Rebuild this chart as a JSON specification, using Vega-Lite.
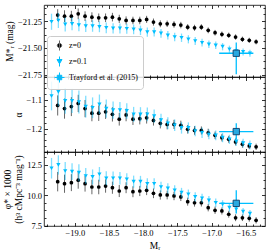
{
  "$schema": "https://vega.github.io/schema/vega-lite/v6.json",
  "autosize": {"type": "pad"},
  "padding": {"left": 1, "top": 4, "right": 5, "bottom": 2},
  "spacing": 0,
  "bounds": "flush",
  "config": {
    "font": "Liberation Serif",
    "view": {"stroke": "black", "strokeWidth": 0.8},
    "axis": {"domain": false, "grid": false, "tickColor": "black", "tickWidth": 0.8, "tickSize": -3.5, "labelFont": "Liberation Serif", "labelFontSize": 8.5, "labelColor": "black", "labelPadding": 6, "titleFont": "Liberation Serif", "titleFontWeight": "normal", "titleFontSize": 9.5, "titleColor": "black", "titlePadding": 3},
    "legend": {"labelFont": "Liberation Serif", "labelFontSize": 8, "labelColor": "black"}
  },
  "datasets": {
    "pts": [
      {"s": "z=0", "M": -19.25, "mr": -21.194, "mre": 0.055, "a": -1.119, "ae": 0.035, "phi": 11.12, "phie": 0.8},
      {"s": "z=0", "M": -19.15, "mr": -21.204, "mre": 0.055, "a": -1.130, "ae": 0.035, "phi": 10.95, "phie": 0.75},
      {"s": "z=0", "M": -19.05, "mr": -21.204, "mre": 0.05, "a": -1.123, "ae": 0.033, "phi": 11.04, "phie": 0.7},
      {"s": "z=0", "M": -18.95, "mr": -21.182, "mre": 0.05, "a": -1.112, "ae": 0.03, "phi": 11.24, "phie": 0.7},
      {"s": "z=0", "M": -18.85, "mr": -21.204, "mre": 0.045, "a": -1.130, "ae": 0.03, "phi": 10.95, "phie": 0.65},
      {"s": "z=0", "M": -18.75, "mr": -21.213, "mre": 0.045, "a": -1.146, "ae": 0.028, "phi": 10.68, "phie": 0.6},
      {"s": "z=0", "M": -18.65, "mr": -21.219, "mre": 0.04, "a": -1.146, "ae": 0.027, "phi": 10.68, "phie": 0.6},
      {"s": "z=0", "M": -18.55, "mr": -21.219, "mre": 0.04, "a": -1.141, "ae": 0.025, "phi": 10.76, "phie": 0.55},
      {"s": "z=0", "M": -18.45, "mr": -21.213, "mre": 0.04, "a": -1.150, "ae": 0.025, "phi": 10.62, "phie": 0.5},
      {"s": "z=0", "M": -18.35, "mr": -21.229, "mre": 0.038, "a": -1.167, "ae": 0.022, "phi": 10.35, "phie": 0.5},
      {"s": "z=0", "M": -18.25, "mr": -21.244, "mre": 0.038, "a": -1.152, "ae": 0.022, "phi": 10.62, "phie": 0.45},
      {"s": "z=0", "M": -18.15, "mr": -21.244, "mre": 0.035, "a": -1.167, "ae": 0.02, "phi": 10.29, "phie": 0.45},
      {"s": "z=0", "M": -18.05, "mr": -21.244, "mre": 0.035, "a": -1.165, "ae": 0.02, "phi": 10.35, "phie": 0.42},
      {"s": "z=0", "M": -17.95, "mr": -21.234, "mre": 0.033, "a": -1.162, "ae": 0.02, "phi": 10.41, "phie": 0.4},
      {"s": "z=0", "M": -17.85, "mr": -21.259, "mre": 0.033, "a": -1.171, "ae": 0.018, "phi": 10.16, "phie": 0.4},
      {"s": "z=0", "M": -17.75, "mr": -21.275, "mre": 0.032, "a": -1.181, "ae": 0.018, "phi": 10.02, "phie": 0.38},
      {"s": "z=0", "M": -17.65, "mr": -21.275, "mre": 0.03, "a": -1.185, "ae": 0.017, "phi": 10.02, "phie": 0.36},
      {"s": "z=0", "M": -17.55, "mr": -21.281, "mre": 0.03, "a": -1.185, "ae": 0.016, "phi": 9.94, "phie": 0.35},
      {"s": "z=0", "M": -17.45, "mr": -21.287, "mre": 0.03, "a": -1.188, "ae": 0.016, "phi": 9.86, "phie": 0.34},
      {"s": "z=0", "M": -17.35, "mr": -21.306, "mre": 0.028, "a": -1.202, "ae": 0.015, "phi": 9.47, "phie": 0.33},
      {"s": "z=0", "M": -17.25, "mr": -21.312, "mre": 0.028, "a": -1.206, "ae": 0.015, "phi": 9.38, "phie": 0.32},
      {"s": "z=0", "M": -17.15, "mr": -21.306, "mre": 0.027, "a": -1.206, "ae": 0.014, "phi": 9.38, "phie": 0.31},
      {"s": "z=0", "M": -17.05, "mr": -21.336, "mre": 0.027, "a": -1.214, "ae": 0.014, "phi": 8.97, "phie": 0.3},
      {"s": "z=0", "M": -16.95, "mr": -21.358, "mre": 0.026, "a": -1.223, "ae": 0.013, "phi": 8.76, "phie": 0.3},
      {"s": "z=0", "M": -16.85, "mr": -21.373, "mre": 0.026, "a": -1.231, "ae": 0.013, "phi": 8.70, "phie": 0.29},
      {"s": "z=0", "M": -16.75, "mr": -21.382, "mre": 0.025, "a": -1.237, "ae": 0.012, "phi": 8.43, "phie": 0.28},
      {"s": "z=0", "M": -16.65, "mr": -21.398, "mre": 0.025, "a": -1.246, "ae": 0.012, "phi": 8.14, "phie": 0.28},
      {"s": "z=0", "M": -16.55, "mr": -21.419, "mre": 0.025, "a": -1.254, "ae": 0.012, "phi": 8.14, "phie": 0.27},
      {"s": "z=0", "M": -16.45, "mr": -21.429, "mre": 0.024, "a": -1.260, "ae": 0.011, "phi": 8.09, "phie": 0.27},
      {"s": "z=0", "M": -16.35, "mr": -21.442, "mre": 0.024, "a": -1.263, "ae": 0.011, "phi": 7.93, "phie": 0.26},
      {"s": "z=0.1", "M": -19.34, "mr": -21.256, "mre": 0.075, "a": -1.086, "ae": 0.05, "phi": 12.23, "phie": 0.85},
      {"s": "z=0.1", "M": -19.24, "mr": -21.244, "mre": 0.07, "a": -1.072, "ae": 0.05, "phi": 12.50, "phie": 0.8},
      {"s": "z=0.1", "M": -19.14, "mr": -21.281, "mre": 0.065, "a": -1.103, "ae": 0.045, "phi": 12.00, "phie": 0.75},
      {"s": "z=0.1", "M": -19.04, "mr": -21.275, "mre": 0.06, "a": -1.103, "ae": 0.042, "phi": 11.95, "phie": 0.7},
      {"s": "z=0.1", "M": -18.94, "mr": -21.287, "mre": 0.058, "a": -1.107, "ae": 0.04, "phi": 11.86, "phie": 0.7},
      {"s": "z=0.1", "M": -18.84, "mr": -21.296, "mre": 0.055, "a": -1.123, "ae": 0.038, "phi": 11.59, "phie": 0.65},
      {"s": "z=0.1", "M": -18.74, "mr": -21.296, "mre": 0.053, "a": -1.127, "ae": 0.036, "phi": 11.51, "phie": 0.62},
      {"s": "z=0.1", "M": -18.64, "mr": -21.303, "mre": 0.05, "a": -1.115, "ae": 0.034, "phi": 11.73, "phie": 0.6},
      {"s": "z=0.1", "M": -18.54, "mr": -21.312, "mre": 0.05, "a": -1.130, "ae": 0.032, "phi": 11.40, "phie": 0.58},
      {"s": "z=0.1", "M": -18.44, "mr": -21.318, "mre": 0.048, "a": -1.135, "ae": 0.03, "phi": 11.40, "phie": 0.55},
      {"s": "z=0.1", "M": -18.34, "mr": -21.318, "mre": 0.047, "a": -1.135, "ae": 0.028, "phi": 11.40, "phie": 0.52},
      {"s": "z=0.1", "M": -18.24, "mr": -21.321, "mre": 0.046, "a": -1.138, "ae": 0.027, "phi": 11.32, "phie": 0.5},
      {"s": "z=0.1", "M": -18.14, "mr": -21.327, "mre": 0.045, "a": -1.150, "ae": 0.026, "phi": 11.12, "phie": 0.5},
      {"s": "z=0.1", "M": -18.04, "mr": -21.336, "mre": 0.044, "a": -1.150, "ae": 0.025, "phi": 11.12, "phie": 0.48},
      {"s": "z=0.1", "M": -17.94, "mr": -21.352, "mre": 0.043, "a": -1.150, "ae": 0.024, "phi": 10.95, "phie": 0.46},
      {"s": "z=0.1", "M": -17.84, "mr": -21.352, "mre": 0.042, "a": -1.156, "ae": 0.023, "phi": 10.95, "phie": 0.45},
      {"s": "z=0.1", "M": -17.74, "mr": -21.364, "mre": 0.041, "a": -1.170, "ae": 0.022, "phi": 10.68, "phie": 0.44},
      {"s": "z=0.1", "M": -17.64, "mr": -21.382, "mre": 0.04, "a": -1.181, "ae": 0.021, "phi": 10.57, "phie": 0.42},
      {"s": "z=0.1", "M": -17.54, "mr": -21.398, "mre": 0.04, "a": -1.188, "ae": 0.02, "phi": 10.41, "phie": 0.41},
      {"s": "z=0.1", "M": -17.44, "mr": -21.405, "mre": 0.039, "a": -1.197, "ae": 0.02, "phi": 10.21, "phie": 0.4},
      {"s": "z=0.1", "M": -17.34, "mr": -21.419, "mre": 0.038, "a": -1.197, "ae": 0.019, "phi": 10.08, "phie": 0.39},
      {"s": "z=0.1", "M": -17.24, "mr": -21.435, "mre": 0.037, "a": -1.208, "ae": 0.018, "phi": 9.86, "phie": 0.38},
      {"s": "z=0.1", "M": -17.14, "mr": -21.451, "mre": 0.036, "a": -1.214, "ae": 0.018, "phi": 9.75, "phie": 0.37},
      {"s": "z=0.1", "M": -17.04, "mr": -21.466, "mre": 0.035, "a": -1.220, "ae": 0.017, "phi": 9.58, "phie": 0.36},
      {"s": "z=0.1", "M": -16.94, "mr": -21.475, "mre": 0.035, "a": -1.223, "ae": 0.017, "phi": 9.38, "phie": 0.35},
      {"s": "z=0.1", "M": -16.84, "mr": -21.488, "mre": 0.034, "a": -1.231, "ae": 0.016, "phi": 9.25, "phie": 0.34},
      {"s": "z=0.1", "M": -16.74, "mr": -21.512, "mre": 0.034, "a": -1.237, "ae": 0.016, "phi": 8.97, "phie": 0.33},
      {"s": "z=0.1", "M": -16.64, "mr": -21.528, "mre": 0.033, "a": -1.244, "ae": 0.015, "phi": 8.84, "phie": 0.32},
      {"s": "z=0.1", "M": -16.54, "mr": -21.537, "mre": 0.033, "a": -1.250, "ae": 0.015, "phi": 8.64, "phie": 0.31},
      {"s": "z=0.1", "M": -16.44, "mr": -21.549, "mre": 0.032, "a": -1.256, "ae": 0.015, "phi": 8.48, "phie": 0.3}
    ],
    "tray": [
      {"s": "Trayford et al. (2015)", "M": -16.64, "Mlo": -16.89, "Mhi": -16.39, "mr": -21.549, "mrlo": -21.744, "mrhi": -21.45, "a": -1.21, "alo": -1.236, "ahi": -1.181, "phi": 9.33, "philo": 8.5, "phihi": 10.41}
    ]
  },
  "vconcat": [
    {
      "width": 221, "height": 72,
      "resolve": {"axis": {"x": "independent", "y": "independent"}},
      "layer": [
        {"data": {"name": "pts"}, "transform": [{"filter": "datum.s === 'z=0'"}],
         "mark": {"type": "errorbar", "color": "#555555", "thickness": 0.9},
         "encoding": {
           "x": {"field": "M", "type": "quantitative", "scale": {"domain": [-19.45, -16.22], "nice": false, "zero": false}, "axis": {"orient": "bottom", "values": [-19, -18.5, -18, -17.5, -17, -16.5], "labels": false, "title": null}},
           "y": {"field": "mr", "type": "quantitative", "scale": {"domain": [-21.77, -21.1], "nice": false, "zero": false}, "axis": {"orient": "left", "values": [-21.75, -21.5, -21.25], "format": ".2f", "title": "M*ᵣ (mag)"}},
           "yError": {"field": "mre"}}},
        {"data": {"name": "pts"}, "transform": [{"filter": "datum.s === 'z=0'"}],
         "mark": {"type": "point", "shape": "circle", "filled": true, "opacity": 1, "size": 14, "color": "#000000"},
         "encoding": {
           "x": {"field": "M", "type": "quantitative", "axis": {"orient": "bottom", "values": [-19.4,-19.3,-19.2,-19.1,-18.9,-18.8,-18.7,-18.6,-18.4,-18.3,-18.2,-18.1,-17.9,-17.8,-17.7,-17.6,-17.4,-17.3,-17.2,-17.1,-16.9,-16.8,-16.7,-16.6,-16.4,-16.3], "labels": false, "tickSize": -2, "title": null}},
           "y": {"field": "mr", "type": "quantitative", "axis": {"orient": "left", "values": [-21.6875,-21.625,-21.5625,-21.4375,-21.375,-21.3125,-21.1875,-21.125], "labels": false, "tickSize": -2, "title": null}}}},
        {"data": {"name": "pts"}, "transform": [{"filter": "datum.s === 'z=0.1'"}],
         "mark": {"type": "errorbar", "color": "#00bfff", "opacity": 0.5, "thickness": 1.3},
         "encoding": {
           "x": {"field": "M", "type": "quantitative", "axis": {"orient": "top", "values": [-19, -18.5, -18, -17.5, -17, -16.5], "labels": false, "title": null}},
           "y": {"field": "mr", "type": "quantitative", "axis": {"orient": "right", "values": [-21.75, -21.5, -21.25], "labels": false, "title": null}},
           "yError": {"field": "mre"}}},
        {"data": {"name": "pts"}, "transform": [{"filter": "datum.s === 'z=0.1'"}],
         "mark": {"type": "point", "shape": "triangle-down", "filled": true, "opacity": 1, "size": 18, "color": "#00bfff"},
         "encoding": {
           "x": {"field": "M", "type": "quantitative", "axis": null},
           "y": {"field": "mr", "type": "quantitative", "axis": null}}},
        {"data": {"name": "tray"},
         "mark": {"type": "rule", "color": "#00bfff", "strokeWidth": 1.3},
         "encoding": {
           "x": {"field": "M", "type": "quantitative", "axis": {"orient": "top", "values": [-19.4,-19.3,-19.2,-19.1,-18.9,-18.8,-18.7,-18.6,-18.4,-18.3,-18.2,-18.1,-17.9,-17.8,-17.7,-17.6,-17.4,-17.3,-17.2,-17.1,-16.9,-16.8,-16.7,-16.6,-16.4,-16.3], "labels": false, "tickSize": -2, "title": null}},
           "y": {"field": "mrlo", "type": "quantitative", "axis": {"orient": "right", "values": [-21.6875,-21.625,-21.5625,-21.4375,-21.375,-21.3125,-21.1875,-21.125], "labels": false, "tickSize": -2, "title": null}},
           "y2": {"field": "mrhi"}}},
        {"data": {"name": "tray"},
         "mark": {"type": "rule", "color": "#00bfff", "strokeWidth": 1.3},
         "encoding": {
           "x": {"field": "Mlo", "type": "quantitative", "axis": null},
           "x2": {"field": "Mhi"},
           "y": {"field": "mr", "type": "quantitative", "axis": null}}},
        {"data": {"name": "tray"},
         "mark": {"type": "point", "shape": "square", "filled": true, "fill": "#2aa9e0", "stroke": "#103c66", "strokeWidth": 0.9, "size": 40, "opacity": 1},
         "encoding": {
           "x": {"field": "M", "type": "quantitative", "axis": null},
           "y": {"field": "mr", "type": "quantitative", "axis": null}}},
        {"data": {"name": "tray"},
         "mark": {"type": "point", "filled": true, "opacity": 0, "strokeWidth": 1},
         "encoding": {
           "x": {"field": "M", "type": "quantitative", "axis": null},
           "y": {"field": "mr", "type": "quantitative", "axis": null},
           "color": {"field": "s", "type": "nominal", "scale": {"domain": ["z=0", "z=0.1", "Trayford et al. (2015)"], "range": ["#000000", "#00bfff", "#2aa9e0"]},
             "legend": {"title": null, "orient": "none", "legendX": 3, "legendY": 31, "padding": 4, "strokeColor": "#cccccc", "fillColor": "rgba(255,255,255,0.85)", "cornerRadius": 3, "symbolSize": 100, "symbolOffset": 3, "labelOffset": 4, "rowPadding": 1, "symbolOpacity": 1, "symbolStrokeWidth": 1}},
           "stroke": {"field": "s", "type": "nominal", "scale": {"domain": ["z=0", "z=0.1", "Trayford et al. (2015)"], "range": ["#666666", "#00bfff", "#00bfff"]},
             "legend": {"title": null, "orient": "none", "legendX": 3, "legendY": 31, "padding": 4, "strokeColor": "#cccccc", "fillColor": "rgba(255,255,255,0.85)", "cornerRadius": 3, "symbolSize": 100, "symbolOffset": 3, "labelOffset": 4, "rowPadding": 1, "symbolOpacity": 1, "symbolStrokeWidth": 1}},
           "shape": {"field": "s", "type": "nominal", "scale": {"domain": ["z=0", "z=0.1", "Trayford et al. (2015)"], "range": ["M0,-1L0,1M0.44,0A0.44,0.44,0,1,1,-0.44,0A0.44,0.44,0,1,1,0.44,0Z", "M0,-1L0,1M-0.5,-0.4L0.5,-0.4L0,0.45Z", "M-1,0L1,0M0,-1L0,1M-0.45,-0.45L0.45,-0.45L0.45,0.45L-0.45,0.45Z"]},
             "legend": {"title": null, "orient": "none", "legendX": 3, "legendY": 31, "padding": 4, "strokeColor": "#cccccc", "fillColor": "rgba(255,255,255,0.85)", "cornerRadius": 3, "symbolSize": 100, "symbolOffset": 3, "labelOffset": 4, "rowPadding": 1, "symbolOpacity": 1, "symbolStrokeWidth": 1}}}}
      ]
    },
    {
      "width": 221, "height": 75,
      "resolve": {"axis": {"x": "independent", "y": "independent"}},
      "layer": [
        {"data": {"name": "pts"}, "transform": [{"filter": "datum.s === 'z=0'"}],
         "mark": {"type": "errorbar", "color": "#555555", "thickness": 0.9},
         "encoding": {
           "x": {"field": "M", "type": "quantitative", "scale": {"domain": [-19.45, -16.22], "nice": false, "zero": false}, "axis": {"orient": "bottom", "values": [-19, -18.5, -18, -17.5, -17, -16.5], "labels": false, "title": null}},
           "y": {"field": "a", "type": "quantitative", "scale": {"domain": [-1.281, -1.02], "nice": false, "zero": false}, "axis": {"orient": "left", "values": [-1.2, -1.1], "format": ".1f", "title": "α"}},
           "yError": {"field": "ae"}}},
        {"data": {"name": "pts"}, "transform": [{"filter": "datum.s === 'z=0'"}],
         "mark": {"type": "point", "shape": "circle", "filled": true, "opacity": 1, "size": 14, "color": "#000000"},
         "encoding": {
           "x": {"field": "M", "type": "quantitative", "axis": {"orient": "bottom", "values": [-19.4,-19.3,-19.2,-19.1,-18.9,-18.8,-18.7,-18.6,-18.4,-18.3,-18.2,-18.1,-17.9,-17.8,-17.7,-17.6,-17.4,-17.3,-17.2,-17.1,-16.9,-16.8,-16.7,-16.6,-16.4,-16.3], "labels": false, "tickSize": -2, "title": null}},
           "y": {"field": "a", "type": "quantitative", "axis": {"orient": "left", "values": [-1.28,-1.26,-1.24,-1.22,-1.18,-1.16,-1.14,-1.12,-1.08,-1.06,-1.04], "labels": false, "tickSize": -2, "title": null}}}},
        {"data": {"name": "pts"}, "transform": [{"filter": "datum.s === 'z=0.1'"}],
         "mark": {"type": "errorbar", "color": "#00bfff", "opacity": 0.5, "thickness": 1.3},
         "encoding": {
           "x": {"field": "M", "type": "quantitative", "axis": {"orient": "top", "values": [-19, -18.5, -18, -17.5, -17, -16.5], "labels": false, "title": null}},
           "y": {"field": "a", "type": "quantitative", "axis": {"orient": "right", "values": [-1.2, -1.1], "labels": false, "title": null}},
           "yError": {"field": "ae"}}},
        {"data": {"name": "pts"}, "transform": [{"filter": "datum.s === 'z=0.1'"}],
         "mark": {"type": "point", "shape": "triangle-down", "filled": true, "opacity": 1, "size": 18, "color": "#00bfff"},
         "encoding": {
           "x": {"field": "M", "type": "quantitative", "axis": null},
           "y": {"field": "a", "type": "quantitative", "axis": null}}},
        {"data": {"name": "tray"},
         "mark": {"type": "rule", "color": "#00bfff", "strokeWidth": 1.3},
         "encoding": {
           "x": {"field": "M", "type": "quantitative", "axis": {"orient": "top", "values": [-19.4,-19.3,-19.2,-19.1,-18.9,-18.8,-18.7,-18.6,-18.4,-18.3,-18.2,-18.1,-17.9,-17.8,-17.7,-17.6,-17.4,-17.3,-17.2,-17.1,-16.9,-16.8,-16.7,-16.6,-16.4,-16.3], "labels": false, "tickSize": -2, "title": null}},
           "y": {"field": "alo", "type": "quantitative", "axis": {"orient": "right", "values": [-1.28,-1.26,-1.24,-1.22,-1.18,-1.16,-1.14,-1.12,-1.08,-1.06,-1.04], "labels": false, "tickSize": -2, "title": null}},
           "y2": {"field": "ahi"}}},
        {"data": {"name": "tray"},
         "mark": {"type": "rule", "color": "#00bfff", "strokeWidth": 1.3},
         "encoding": {
           "x": {"field": "Mlo", "type": "quantitative", "axis": null},
           "x2": {"field": "Mhi"},
           "y": {"field": "a", "type": "quantitative", "axis": null}}},
        {"data": {"name": "tray"},
         "mark": {"type": "point", "shape": "square", "filled": true, "fill": "#2aa9e0", "stroke": "#103c66", "strokeWidth": 0.9, "size": 40, "opacity": 1},
         "encoding": {
           "x": {"field": "M", "type": "quantitative", "axis": null},
           "y": {"field": "a", "type": "quantitative", "axis": null}}}
      ]
    },
    {
      "width": 221, "height": 74,
      "resolve": {"axis": {"x": "independent", "y": "independent"}},
      "layer": [
        {"data": {"name": "pts"}, "transform": [{"filter": "datum.s === 'z=0'"}],
         "mark": {"type": "errorbar", "color": "#555555", "thickness": 0.9},
         "encoding": {
           "x": {"field": "M", "type": "quantitative", "scale": {"domain": [-19.45, -16.22], "nice": false, "zero": false}, "axis": {"orient": "bottom", "values": [-19, -18.5, -18, -17.5, -17, -16.5], "format": ".1f", "title": "Mᵣ"}},
           "y": {"field": "phi", "type": "quantitative", "scale": {"domain": [7.46, 13.57], "nice": false, "zero": false}, "axis": {"orient": "left", "values": [7.5, 10, 12.5], "format": ".1f", "title": ["φ* × 1000", "(h³ cMpc⁻³ mag⁻¹)"]}},
           "yError": {"field": "phie"}}},
        {"data": {"name": "pts"}, "transform": [{"filter": "datum.s === 'z=0'"}],
         "mark": {"type": "point", "shape": "circle", "filled": true, "opacity": 1, "size": 14, "color": "#000000"},
         "encoding": {
           "x": {"field": "M", "type": "quantitative", "axis": {"orient": "bottom", "values": [-19.4,-19.3,-19.2,-19.1,-18.9,-18.8,-18.7,-18.6,-18.4,-18.3,-18.2,-18.1,-17.9,-17.8,-17.7,-17.6,-17.4,-17.3,-17.2,-17.1,-16.9,-16.8,-16.7,-16.6,-16.4,-16.3], "labels": false, "tickSize": -2, "title": null}},
           "y": {"field": "phi", "type": "quantitative", "axis": {"orient": "left", "values": [8.125, 8.75, 9.375, 10.625, 11.25, 11.875, 13.125], "labels": false, "tickSize": -2, "title": null}}}},
        {"data": {"name": "pts"}, "transform": [{"filter": "datum.s === 'z=0.1'"}],
         "mark": {"type": "errorbar", "color": "#00bfff", "opacity": 0.5, "thickness": 1.3},
         "encoding": {
           "x": {"field": "M", "type": "quantitative", "axis": {"orient": "top", "values": [-19, -18.5, -18, -17.5, -17, -16.5], "labels": false, "title": null}},
           "y": {"field": "phi", "type": "quantitative", "axis": {"orient": "right", "values": [7.5, 10, 12.5], "labels": false, "title": null}},
           "yError": {"field": "phie"}}},
        {"data": {"name": "pts"}, "transform": [{"filter": "datum.s === 'z=0.1'"}],
         "mark": {"type": "point", "shape": "triangle-down", "filled": true, "opacity": 1, "size": 18, "color": "#00bfff"},
         "encoding": {
           "x": {"field": "M", "type": "quantitative", "axis": null},
           "y": {"field": "phi", "type": "quantitative", "axis": null}}},
        {"data": {"name": "tray"},
         "mark": {"type": "rule", "color": "#00bfff", "strokeWidth": 1.3},
         "encoding": {
           "x": {"field": "M", "type": "quantitative", "axis": {"orient": "top", "values": [-19.4,-19.3,-19.2,-19.1,-18.9,-18.8,-18.7,-18.6,-18.4,-18.3,-18.2,-18.1,-17.9,-17.8,-17.7,-17.6,-17.4,-17.3,-17.2,-17.1,-16.9,-16.8,-16.7,-16.6,-16.4,-16.3], "labels": false, "tickSize": -2, "title": null}},
           "y": {"field": "philo", "type": "quantitative", "axis": {"orient": "right", "values": [8.125, 8.75, 9.375, 10.625, 11.25, 11.875, 13.125], "labels": false, "tickSize": -2, "title": null}},
           "y2": {"field": "phihi"}}},
        {"data": {"name": "tray"},
         "mark": {"type": "rule", "color": "#00bfff", "strokeWidth": 1.3},
         "encoding": {
           "x": {"field": "Mlo", "type": "quantitative", "axis": null},
           "x2": {"field": "Mhi"},
           "y": {"field": "phi", "type": "quantitative", "axis": null}}},
        {"data": {"name": "tray"},
         "mark": {"type": "point", "shape": "square", "filled": true, "fill": "#2aa9e0", "stroke": "#103c66", "strokeWidth": 0.9, "size": 40, "opacity": 1},
         "encoding": {
           "x": {"field": "M", "type": "quantitative", "axis": null},
           "y": {"field": "phi", "type": "quantitative", "axis": null}}}
      ]
    }
  ]
}
